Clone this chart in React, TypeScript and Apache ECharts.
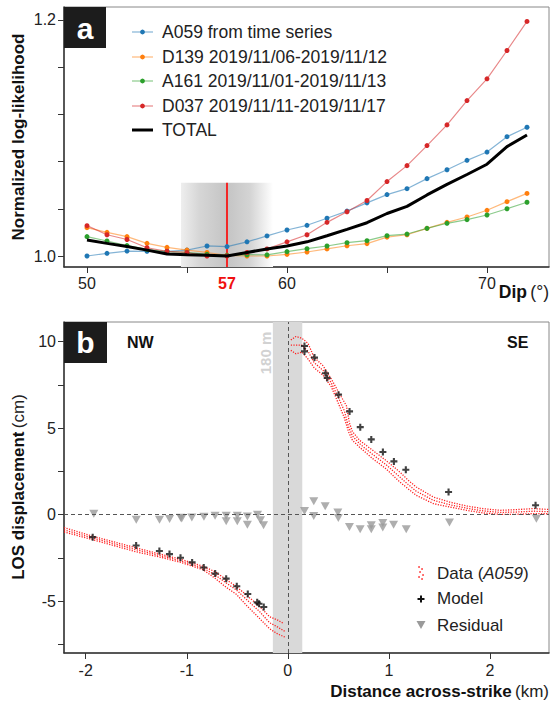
import React, { useEffect, useRef } from "react";
import * as echarts from "echarts";

const FONT = '"Liberation Sans", Arial, Helvetica, sans-serif';

// ---------- Panel a ----------
const dips = [50, 51, 52, 53, 54, 55, 56, 57, 58, 59, 60, 61, 62, 63, 64, 65, 66, 67, 68, 69, 70, 71, 72];
const a059 = [1.0, 1.0023, 1.0042, 1.004, 1.004, 1.005, 1.0085, 1.008, 1.012, 1.017, 1.022, 1.026, 1.032, 1.038, 1.045, 1.052, 1.057, 1.0655, 1.073, 1.081, 1.088, 1.101, 1.109];
const d139 = [1.024, 1.02, 1.0164, 1.0107, 1.0073, 1.005, 1.003, 1.0006, 1.0, 1.0, 1.0014, 1.0034, 1.006, 1.0087, 1.0105, 1.016, 1.018, 1.0234, 1.0285, 1.033, 1.0387, 1.046, 1.053];
const a161 = [1.0164, 1.0127, 1.0088, 1.0056, 1.0037, 1.003, 1.0014, 1.0006, 1.0011, 1.001, 1.0037, 1.0062, 1.0085, 1.0113, 1.013, 1.0172, 1.0186, 1.0234, 1.0277, 1.0308, 1.0347, 1.04, 1.0455];
const d037 = [1.0257, 1.018, 1.014, 1.007, 1.004, 1.003, 1.0, 1.0, 1.003, 1.006, 1.012, 1.018, 1.0285, 1.0375, 1.047, 1.063, 1.0765, 1.0935, 1.111, 1.1316, 1.15, 1.174, 1.1986];
const total = [1.0136, 1.0107, 1.008, 1.005, 1.0017, 1.0011, 1.0006, 1.0, 1.003, 1.006, 1.0085, 1.012, 1.0172, 1.0226, 1.0282, 1.036, 1.042, 1.0517, 1.0607, 1.069, 1.0777, 1.0926, 1.1025];
const bestDip = 57;
const dipBand = [54.7, 59.3];
const dipBandTop = 1.062;
const aXTicks = [50, 55, 60, 65, 70];
const aXLabels = [50, 57, 60, 70];
const aYTicks = [1.0, 1.04, 1.08, 1.12, 1.16, 1.2];
const aYLabels = [1.0, 1.2];
const aLegend = [
  { name: "A059 from time series", color: "#1f77b4" },
  { name: "D139 2019/11/06-2019/11/12", color: "#ff7f0e" },
  { name: "A161 2019/11/01-2019/11/13", color: "#2ca02c" },
  { name: "D037 2019/11/11-2019/11/17", color: "#d62728" },
];

// ---------- Panel b ----------
const nwModel = [
  [-1.931, -1.3], [-1.501, -1.78], [-1.271, -2.1], [-1.171, -2.28], [-1.062, -2.49], [-0.947, -2.76],
  [-0.832, -3.06], [-0.719, -3.41], [-0.61, -3.7], [-0.505, -4.14], [-0.396, -4.59], [-0.303, -5.07],
  [-0.285, -5.15], [-0.238, -5.34],
];
const seModel = [
  [0.165, 9.75], [0.165, 9.44], [0.264, 9.08], [0.373, 8.18], [0.39, 7.9], [0.502, 6.94], [0.611, 5.97],
  [0.717, 5.06], [0.826, 4.35], [0.941, 3.62], [1.05, 3.08], [1.168, 2.6], [1.591, 1.31], [2.452, 0.54],
];
const nwResidual = [
  [-1.92, 0.05], [-1.5, -0.3], [-1.27, -0.3], [-1.17, -0.25], [-1.06, -0.18], [-1.05, -0.22], [-0.95, -0.17],
  [-0.83, -0.12], [-0.72, -0.07], [-0.61, -0.07], [-0.61, -0.38], [-0.5, -0.07], [-0.5, -0.38], [-0.4, -0.1],
  [-0.4, -0.58], [-0.3, 0.0], [-0.27, -0.33], [-0.24, -0.62],
];
const seResidual = [
  [0.165, 0.21], [0.257, 0.77], [0.257, -0.08], [0.37, 0.48], [0.495, 0.12], [0.5, -0.2], [0.61, -0.72],
  [0.716, -0.85], [0.826, -0.62], [0.826, -0.85], [0.94, -0.49], [0.94, -0.75], [1.047, -0.58], [1.172, -0.85],
  [1.6, -0.46], [2.46, -0.23],
];
// data cloud (A059), read as upper / middle / lower traces of the point band
const nwUpper = [
  [-2.215, -0.75], [-1.93, -1.25], [-1.5, -1.92], [-1.27, -2.27], [-1.06, -2.58], [-0.84, -2.98], [-0.72, -3.3],
  [-0.61, -3.75], [-0.51, -4.15], [-0.4, -4.7], [-0.28, -5.3], [-0.18, -5.9], [-0.1, -6.1], [-0.04, -6.3],
];
const nwMid = [
  [-2.215, -0.88], [-1.93, -1.35], [-1.5, -2.03], [-1.27, -2.36], [-1.06, -2.67], [-0.84, -3.08], [-0.72, -3.48],
  [-0.61, -3.95], [-0.51, -4.35], [-0.4, -4.95], [-0.28, -5.6], [-0.18, -6.25], [-0.1, -6.5], [-0.03, -6.75],
];
const nwLower = [
  [-2.215, -1.0], [-1.93, -1.45], [-1.5, -2.15], [-1.27, -2.45], [-1.06, -2.76], [-0.84, -3.18], [-0.72, -3.68],
  [-0.61, -4.2], [-0.51, -4.6], [-0.4, -5.3], [-0.28, -6.0], [-0.18, -6.6], [-0.1, -6.9], [-0.02, -7.1],
];
const seUpper = [
  [0.03, 10.1], [0.08, 10.3], [0.14, 10.2], [0.2, 9.9], [0.26, 9.1], [0.35, 8.6], [0.43, 7.85], [0.51, 7.0],
  [0.58, 6.3], [0.61, 5.3], [0.64, 4.8], [0.71, 4.3], [0.84, 3.72], [0.97, 3.14], [1.11, 2.46], [1.19, 2.0],
  [1.27, 1.6], [1.44, 1.02], [1.6, 0.73], [1.77, 0.5], [1.93, 0.35], [2.1, 0.25], [2.26, 0.29], [2.43, 0.35],
  [2.585, 0.3],
];
const seMid = [
  [0.03, 9.8], [0.08, 9.8], [0.14, 9.8], [0.2, 9.45], [0.26, 8.8], [0.35, 8.33], [0.43, 7.62], [0.51, 6.65],
  [0.56, 6.0], [0.6, 5.1], [0.64, 4.55], [0.71, 4.1], [0.84, 3.48], [0.97, 2.9], [1.11, 2.17], [1.19, 1.75],
  [1.27, 1.36], [1.44, 0.83], [1.6, 0.58], [1.77, 0.37], [1.93, 0.22], [2.1, 0.13], [2.26, 0.15], [2.43, 0.2],
  [2.585, 0.17],
];
const seLower = [
  [0.03, 9.5], [0.08, 9.3], [0.14, 9.4], [0.2, 9.0], [0.26, 8.5], [0.35, 8.05], [0.43, 7.4], [0.51, 6.3],
  [0.56, 5.6], [0.6, 4.8], [0.64, 4.3], [0.71, 3.9], [0.84, 3.24], [0.97, 2.66], [1.11, 1.88], [1.19, 1.5],
  [1.27, 1.12], [1.44, 0.64], [1.6, 0.44], [1.77, 0.25], [1.93, 0.1], [2.1, 0.02], [2.26, 0.02], [2.43, 0.06],
  [2.585, 0.05],
];
const faultZone = [-0.148, 0.143];
const bXTicks = [-2, -1, 0, 1, 2];
const bYTicks = [-7.5, -5, -2.5, 0, 2.5, 5, 7.5, 10];
const bYLabels = [-5, 0, 5, 10];

const PLUS = "path://M3.5,0L6.5,0L6.5,3.5L10,3.5L10,6.5L6.5,6.5L6.5,10L3.5,10L3.5,6.5L0,6.5L0,3.5L3.5,3.5Z";

function axisCommon(gridIndex: number, min: number, max: number, ticks: number[], labels: number[], fmt: any, margin: number, rich?: any) {
  return {
    type: "value",
    gridIndex,
    min,
    max,
    axisLine: { show: true, onZero: false, lineStyle: { color: "#333", width: 1.5 } },
    axisTick: { show: true, customValues: ticks, length: 6, inside: false, lineStyle: { color: "#333", width: 1 } },
    axisLabel: { show: true, customValues: labels, margin, fontSize: 16, color: "#222", fontFamily: FONT, formatter: fmt, rich },
    splitLine: { show: false },
  };
}

export default function App() {
  const ref = useRef<HTMLDivElement>(null);
  useEffect(() => {
    document.body.style.margin = "0";
    const chart = echarts.init(ref.current!, null, { renderer: "svg" });
    const pairs = (ys: number[]) => dips.map((d, i) => [d, ys[i]]);
    const cloud = (data: number[][]) => ({
      type: "line",
      xAxisIndex: 1,
      yAxisIndex: 1,
      data,
      symbol: "none",
      z: 3,
      silent: true,
      lineStyle: { color: "#ff1f1f", width: 1.3, type: [1.2, 1.4] },
    });

    const legendA: any[] = [];
    const rows = [32, 57, 81, 106, 130];
    aLegend.forEach((l, i) => {
      legendA.push({ type: "line", shape: { x1: 132, y1: rows[i], x2: 153, y2: rows[i] }, style: { stroke: l.color, lineWidth: 1.2, opacity: 0.55 } });
      legendA.push({ type: "circle", shape: { cx: 142.5, cy: rows[i], r: 2.4 }, style: { fill: l.color } });
      legendA.push({ type: "text", x: 162, y: rows[i], style: { text: l.name, fontSize: 17.5, fontFamily: FONT, fill: "#222", verticalAlign: "middle" } });
    });
    legendA.push({ type: "line", shape: { x1: 132, y1: rows[4], x2: 153, y2: rows[4] }, style: { stroke: "#000", lineWidth: 3 } });
    legendA.push({ type: "text", x: 162, y: rows[4], style: { text: "TOTAL", fontSize: 17.5, fontFamily: FONT, fill: "#222", verticalAlign: "middle" } });

    const dataDots = [[419, 567], [422, 569], [420, 572], [423, 575], [419, 577], [422, 579]].map(([cx, cy]) => ({
      type: "circle", shape: { cx, cy, r: 0.8 }, style: { fill: "#ff2222" },
    }));

    chart.setOption({
      animation: false,
      backgroundColor: "#fff",
      textStyle: { fontFamily: FONT },
      grid: [
        { left: 64, top: 7, width: 485, height: 260, show: true, borderColor: "#888", borderWidth: 1 },
        { left: 64, top: 322, width: 485, height: 331, show: true, borderColor: "#888", borderWidth: 1 },
      ],
      xAxis: [
        axisCommon(0, 48.85, 73.1, aXTicks, aXLabels, (v: number) => (v === bestDip ? `{r|${v}}` : String(v)), 8, {
          r: { color: "#f01010", fontWeight: "bold", fontSize: 16, fontFamily: FONT },
        }),
        axisCommon(1, -2.215, 2.585, bXTicks, bXTicks, (v: number) => String(v), 9),
      ],
      yAxis: [
        axisCommon(0, 0.9907, 1.2108, aYTicks, aYLabels, (v: number) => v.toFixed(1), 8),
        axisCommon(1, -8, 11.14, bYTicks, bYLabels, (v: number) => String(v), 8),
      ],
      series: [
        {
          type: "line",
          xAxisIndex: 0,
          yAxisIndex: 0,
          data: [],
          z: 1,
          silent: true,
          markArea: {
            silent: true,
            itemStyle: {
              color: new echarts.graphic.LinearGradient(0, 0, 1, 0, [
                { offset: 0, color: "#eeeeee" },
                { offset: 0.2, color: "#d6d6d6" },
                { offset: 0.5, color: "#c4c4c4" },
                { offset: 0.75, color: "#d4d4d4" },
                { offset: 1, color: "#ffffff" },
              ]),
            },
            data: [[{ xAxis: dipBand[0], yAxis: 0.9907 }, { xAxis: dipBand[1], yAxis: dipBandTop }]],
          },
        },
        {
          type: "line",
          xAxisIndex: 0,
          yAxisIndex: 0,
          data: [[bestDip, 0.9907], [bestDip, dipBandTop]],
          z: 2,
          silent: true,
          symbol: "none",
          lineStyle: { color: "#ff0000", width: 1.6 },
        },
        ...[a059, d139, a161, d037].map((ys, i) => ({
          type: "line",
          name: aLegend[i].name,
          xAxisIndex: 0,
          yAxisIndex: 0,
          data: pairs(ys),
          z: 3,
          symbol: "circle",
          symbolSize: 5,
          itemStyle: { color: aLegend[i].color },
          lineStyle: { color: aLegend[i].color, width: 1.2, opacity: 0.55 },
        })),
        {
          type: "line",
          name: "TOTAL",
          xAxisIndex: 0,
          yAxisIndex: 0,
          data: pairs(total),
          z: 5,
          symbol: "none",
          lineStyle: { color: "#000", width: 3 },
        },
        // panel b
        {
          type: "line",
          xAxisIndex: 1,
          yAxisIndex: 1,
          data: [],
          z: 1,
          silent: true,
          markArea: {
            silent: true,
            itemStyle: { color: "#d9d9d9" },
            data: [[{ xAxis: faultZone[0] }, { xAxis: faultZone[1] }]],
          },
        },
        {
          type: "line",
          xAxisIndex: 1,
          yAxisIndex: 1,
          data: [],
          z: 2,
          silent: true,
          markLine: {
            silent: true,
            symbol: "none",
            label: { show: false },
            lineStyle: { color: "#555", width: 1, type: [4, 3] },
            data: [{ xAxis: 0 }, { yAxis: 0 }],
          },
        },
        cloud(nwUpper),
        cloud(nwMid),
        cloud(nwLower),
        cloud(seUpper),
        cloud(seMid),
        cloud(seLower),
        {
          type: "scatter",
          name: "Residual",
          xAxisIndex: 1,
          yAxisIndex: 1,
          data: [...nwResidual, ...seResidual],
          symbol: "triangle",
          symbolRotate: 180,
          symbolSize: [9, 8],
          itemStyle: { color: "#9a9a9a" },
          z: 4,
        },
        {
          type: "scatter",
          name: "Model",
          xAxisIndex: 1,
          yAxisIndex: 1,
          data: [...nwModel, ...seModel],
          symbol: PLUS,
          symbolSize: 7,
          itemStyle: { color: "#111" },
          z: 5,
        },
      ],
      graphic: [
        // panel letters
        { type: "rect", shape: { x: 64, y: 7, width: 42, height: 41 }, style: { fill: "#1c1c1c" }, z: 10 },
        { type: "text", x: 85, y: 28, z: 11, style: { text: "a", fontSize: 30, fontWeight: "bold", fontFamily: FONT, fill: "#fff", align: "center", verticalAlign: "middle" } },
        { type: "rect", shape: { x: 64, y: 322, width: 43, height: 41 }, style: { fill: "#1c1c1c" }, z: 10 },
        { type: "text", x: 85.5, y: 342, z: 11, style: { text: "b", fontSize: 30, fontWeight: "bold", fontFamily: FONT, fill: "#fff", align: "center", verticalAlign: "middle" } },
        ...legendA,
        // axis names
        {
          type: "text", x: 549, y: 292,
          style: {
            text: "{b|Dip} {n|(°)}", align: "right", verticalAlign: "middle",
            rich: { b: { fontSize: 17.5, fontWeight: "bold", fontFamily: FONT, fill: "#111" }, n: { fontSize: 17.5, fontFamily: FONT, fill: "#222" } },
          },
        },
        {
          type: "text", x: 549, y: 691,
          style: {
            text: "{b|Distance across-strike} {n|(km)}", align: "right", verticalAlign: "middle",
            rich: { b: { fontSize: 17, fontWeight: "bold", fontFamily: FONT, fill: "#111" }, n: { fontSize: 17, fontFamily: FONT, fill: "#222" } },
          },
        },
        {
          type: "text", x: 18, y: 137, rotation: Math.PI / 2,
          style: { text: "Normalized log-likelihood", fontSize: 17, fontWeight: "bold", fontFamily: FONT, fill: "#111", align: "center", verticalAlign: "middle" },
        },
        {
          type: "text", x: 18, y: 487, rotation: Math.PI / 2,
          style: {
            text: "{b|LOS displacement} {n|(cm)}", align: "center", verticalAlign: "middle",
            rich: { b: { fontSize: 17, fontWeight: "bold", fontFamily: FONT, fill: "#111" }, n: { fontSize: 17, fontFamily: FONT, fill: "#222" } },
          },
        },
        // NW / SE and fault width
        { type: "text", x: 127, y: 342, style: { text: "NW", fontSize: 16, fontWeight: "bold", fontFamily: FONT, fill: "#111", verticalAlign: "middle" } },
        { type: "text", x: 507, y: 342, style: { text: "SE", fontSize: 16, fontWeight: "bold", fontFamily: FONT, fill: "#111", verticalAlign: "middle" } },
        {
          type: "text", x: 265, y: 353, rotation: Math.PI / 2, z: 6,
          style: { text: "180 m", fontSize: 15, fontWeight: "bold", fontFamily: FONT, fill: "#d2d2d2", align: "center", verticalAlign: "middle" },
        },
        // panel b legend
        ...dataDots,
        { type: "text", x: 437, y: 573, style: { text: "{n|Data (}{i|A059}{n|)}", verticalAlign: "middle", rich: { n: { fontSize: 17, fontFamily: FONT, fill: "#222" }, i: { fontSize: 17, fontStyle: "italic", fontFamily: FONT, fill: "#222" } } } },
        { type: "rect", shape: { x: 420, y: 595.5, width: 2, height: 7 }, style: { fill: "#111" } },
        { type: "rect", shape: { x: 417.5, y: 598, width: 7, height: 2 }, style: { fill: "#111" } },
        { type: "text", x: 437, y: 598, style: { text: "Model", fontSize: 17, fontFamily: FONT, fill: "#222", verticalAlign: "middle" } },
        { type: "polygon", shape: { points: [[416.5, 621], [425.5, 621], [421, 629]] }, style: { fill: "#9a9a9a" } },
        { type: "text", x: 437, y: 625, style: { text: "Residual", fontSize: 17, fontFamily: FONT, fill: "#222", verticalAlign: "middle" } },
      ],
    });
    return () => chart.dispose();
  }, []);
  return <div ref={ref} style={{ width: 554, height: 702 }} />;
}
